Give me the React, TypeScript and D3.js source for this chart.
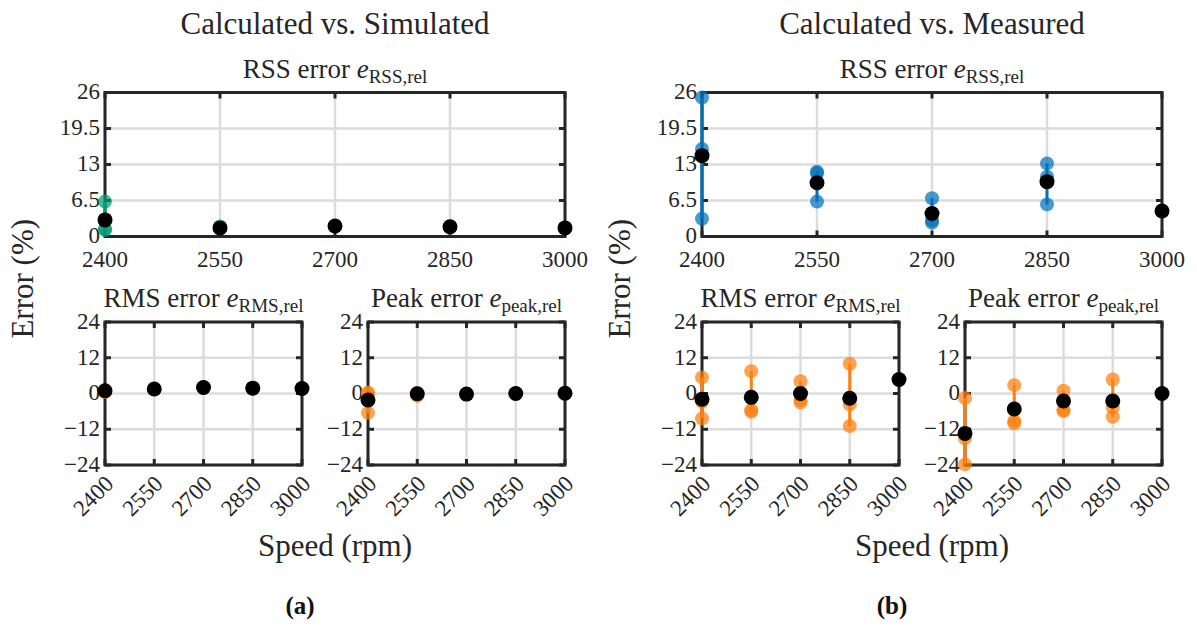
import { useEffect, useRef } from 'react';
import * as d3 from 'd3';

// shared axes
const speeds = [2400, 2550, 2700, 2850, 3000];
const rssTicks = [0, 6.5, 13, 19.5, 26];
const errTicks = [-24, -12, 0, 12, 24];

// (a) calculated vs. simulated
const simRssRuns = [[6.3, 1.3, 1.2], [1.8, 1.5], [1.9], [1.8, 1.6], [1.5]];
const simRssMean = [3.0, 1.55, 1.9, 1.75, 1.55];
const simRmsRuns = [[0.5, 0.8], [1.4], [2.0], [1.8], [1.7]];
const simRmsMean = [0.9, 1.5, 2.0, 1.8, 1.7];
const simPeakRuns = [[0.3, -6.5, 0.0], [-0.8, 0.2], [-0.2], [0.0], [0.1]];
const simPeakMean = [-2.2, -0.1, -0.2, 0.0, 0.1];

// (b) calculated vs. measured
const measRssRuns = [[25.1, 15.8, 3.2], [11.7, 11.4, 6.3], [6.9, 2.9, 2.5], [13.2, 10.8, 5.8], [4.6]];
const measRssMean = [14.6, 9.7, 4.15, 9.9, 4.6];
const measRmsRuns = [[5.4, -2.8, -8.4], [7.5, -5.6, -6.1], [4.1, -2.2, -3.0], [10.0, -3.6, -10.9], [4.7]];
const measRmsMean = [-1.9, -1.3, 0.0, -1.6, 4.7];
const measPeakRuns = [[-1.5, -15.0, -23.8], [2.8, -9.2, -10.0], [0.9, -5.9, -5.5], [4.7, -4.7, -7.8], [0.0]];
const measPeakMean = [-13.4, -5.2, -2.5, -2.5, 0.0];

const FONT = '"Liberation Serif", "DejaVu Serif", serif';
const AXIS = '#262626';
const GRID = '#dcdcdc';
const GREEN = '#009E73';
const BLUE = '#0072BD';
const ORANGE = '#FF7F0E';

const fmt = (d: number) => (d < 0 ? '\u2212' + Math.abs(d) : String(d));

const drawPanel = (svg: any, p: any) => {
  const g = svg.append('g');
  const x = d3.scaleLinear().domain([2400, 3000]).range([p.x0, p.x1]);
  const y = d3
    .scaleLinear()
    .domain([p.ticks[0], p.ticks[p.ticks.length - 1]])
    .range([p.y1, p.y0]);

  // grid
  g.selectAll('.gx')
    .data(speeds)
    .join('line')
    .attr('x1', (d) => x(d))
    .attr('x2', (d) => x(d))
    .attr('y1', p.y0)
    .attr('y2', p.y1)
    .attr('stroke', GRID)
    .attr('stroke-width', 2.5);
  g.selectAll('.gy')
    .data(p.ticks)
    .join('line')
    .attr('x1', p.x0)
    .attr('x2', p.x1)
    .attr('y1', (d) => y(d))
    .attr('y2', (d) => y(d))
    .attr('stroke', GRID)
    .attr('stroke-width', 2.5);

  // box with inward ticks
  g.append('rect')
    .attr('x', p.x0)
    .attr('y', p.y0)
    .attr('width', p.x1 - p.x0)
    .attr('height', p.y1 - p.y0)
    .attr('fill', 'none')
    .attr('stroke', AXIS)
    .attr('stroke-width', 3);
  const tk = 6;
  speeds.forEach((s) => {
    g.append('line').attr('x1', x(s)).attr('x2', x(s)).attr('y1', p.y1).attr('y2', p.y1 - tk).attr('stroke', AXIS).attr('stroke-width', 3);
    g.append('line').attr('x1', x(s)).attr('x2', x(s)).attr('y1', p.y0).attr('y2', p.y0 + tk).attr('stroke', AXIS).attr('stroke-width', 3);
  });
  p.ticks.forEach((t: number) => {
    g.append('line').attr('x1', p.x0).attr('x2', p.x0 + tk).attr('y1', y(t)).attr('y2', y(t)).attr('stroke', AXIS).attr('stroke-width', 3);
    g.append('line').attr('x1', p.x1).attr('x2', p.x1 - tk).attr('y1', y(t)).attr('y2', y(t)).attr('stroke', AXIS).attr('stroke-width', 3);
  });

  // tick labels
  g.selectAll('.yl')
    .data(p.ticks)
    .join('text')
    .attr('x', p.x0 - 5)
    .attr('y', (d) => y(d))
    .attr('dy', '0.3em')
    .attr('text-anchor', 'end')
    .attr('font-family', FONT)
    .attr('font-size', 23)
    .attr('fill', AXIS)
    .text((d) => fmt(d));

  if (p.rotate) {
    g.selectAll('.xl')
      .data(speeds)
      .join('text')
      .attr('transform', (d) => `translate(${x(d) + 10},${p.y1 + 20}) rotate(-45)`)
      .attr('text-anchor', 'end')
      .attr('font-family', FONT)
      .attr('font-size', 23)
      .attr('fill', AXIS)
      .text((d) => d);
  } else {
    g.selectAll('.xl')
      .data(speeds)
      .join('text')
      .attr('x', (d) => x(d))
      .attr('y', p.y1 + 30)
      .attr('text-anchor', 'middle')
      .attr('font-family', FONT)
      .attr('font-size', 23)
      .attr('fill', AXIS)
      .text((d) => d);
  }

  // subplot title
  const t = g
    .append('text')
    .attr('x', (p.x0 + p.x1) / 2)
    .attr('y', p.y0 - 15)
    .attr('text-anchor', 'middle')
    .attr('font-family', FONT)
    .attr('font-size', 27)
    .attr('fill', AXIS);
  t.append('tspan').text(p.title + ' ');
  t.append('tspan').attr('font-style', 'italic').text('e');
  t.append('tspan').attr('font-size', 19).attr('dy', 5).text(p.sub);

  // ranges and runs
  p.runs.forEach((vals: number[], i: number) => {
    const [lo, hi] = d3.extent(vals) as [number, number];
    if (hi > lo) {
      g.append('line')
        .attr('x1', x(speeds[i]))
        .attr('x2', x(speeds[i]))
        .attr('y1', y(lo))
        .attr('y2', y(hi))
        .attr('stroke', p.color)
        .attr('stroke-width', 3);
    }
    g.selectAll(null)
      .data(vals)
      .join('circle')
      .attr('cx', x(speeds[i]))
      .attr('cy', (d) => y(d))
      .attr('r', 7)
      .attr('fill', p.color)
      .attr('fill-opacity', 0.72);
  });

  // mean
  g.selectAll('.mean')
    .data(p.means)
    .join('circle')
    .attr('cx', (_d, i) => x(speeds[i]))
    .attr('cy', (d) => y(d))
    .attr('r', 7.5)
    .attr('fill', '#000');
};

const drawFigure = (svg: any, f: any) => {
  const ox = f.ox;
  const top = { y0: 92.5, y1: 236.5 };
  const bot = { y0: 322, y1: 465 };
  const W = 460;
  const w = 197;
  const gap = 66;

  svg
    .append('text')
    .attr('x', ox + W / 2)
    .attr('y', 34)
    .attr('text-anchor', 'middle')
    .attr('font-family', FONT)
    .attr('font-size', 31)
    .attr('fill', AXIS)
    .text(f.title);

  drawPanel(svg, { x0: ox, x1: ox + W, ...top, ticks: rssTicks, runs: f.rss, means: f.rssMean, color: f.rssColor, title: 'RSS error', sub: 'RSS,rel', rotate: false });
  drawPanel(svg, { x0: ox, x1: ox + w, ...bot, ticks: errTicks, runs: f.rms, means: f.rmsMean, color: ORANGE, title: 'RMS error', sub: 'RMS,rel', rotate: true });
  drawPanel(svg, { x0: ox + w + gap, x1: ox + 2 * w + gap, ...bot, ticks: errTicks, runs: f.peak, means: f.peakMean, color: ORANGE, title: 'Peak error', sub: 'peak,rel', rotate: true });

  svg
    .append('text')
    .attr('transform', `translate(${ox - 72},${(top.y0 + bot.y1) / 2}) rotate(-90)`)
    .attr('text-anchor', 'middle')
    .attr('font-family', FONT)
    .attr('font-size', 31)
    .attr('fill', AXIS)
    .text('Error (%)');

  svg
    .append('text')
    .attr('x', ox + W / 2)
    .attr('y', 556)
    .attr('text-anchor', 'middle')
    .attr('font-family', FONT)
    .attr('font-size', 31)
    .attr('fill', AXIS)
    .text('Speed (rpm)');

  svg
    .append('text')
    .attr('x', f.tagX)
    .attr('y', 614)
    .attr('text-anchor', 'middle')
    .attr('font-family', FONT)
    .attr('font-weight', 'bold')
    .attr('font-size', 25)
    .attr('fill', '#111')
    .text(f.tag);
};

const App = () => {
  const ref = useRef<SVGSVGElement>(null);
  useEffect(() => {
    const svg = d3.select(ref.current);
    svg.selectAll('*').remove();
    svg.append('rect').attr('width', 1197).attr('height', 626).attr('fill', '#fff');
    drawFigure(svg, {
      ox: 105,
      title: 'Calculated vs. Simulated',
      rss: simRssRuns,
      rssMean: simRssMean,
      rssColor: GREEN,
      rms: simRmsRuns,
      rmsMean: simRmsMean,
      peak: simPeakRuns,
      peakMean: simPeakMean,
      tag: '(a)',
      tagX: 300,
    });
    drawFigure(svg, {
      ox: 702,
      title: 'Calculated vs. Measured',
      rss: measRssRuns,
      rssMean: measRssMean,
      rssColor: BLUE,
      rms: measRmsRuns,
      rmsMean: measRmsMean,
      peak: measPeakRuns,
      peakMean: measPeakMean,
      tag: '(b)',
      tagX: 892,
    });
  }, []);

  return (
    <svg
      ref={ref}
      width={1197}
      height={626}
      style={{ position: 'absolute', left: 0, top: 0, display: 'block' }}
    />
  );
};

export default App;
